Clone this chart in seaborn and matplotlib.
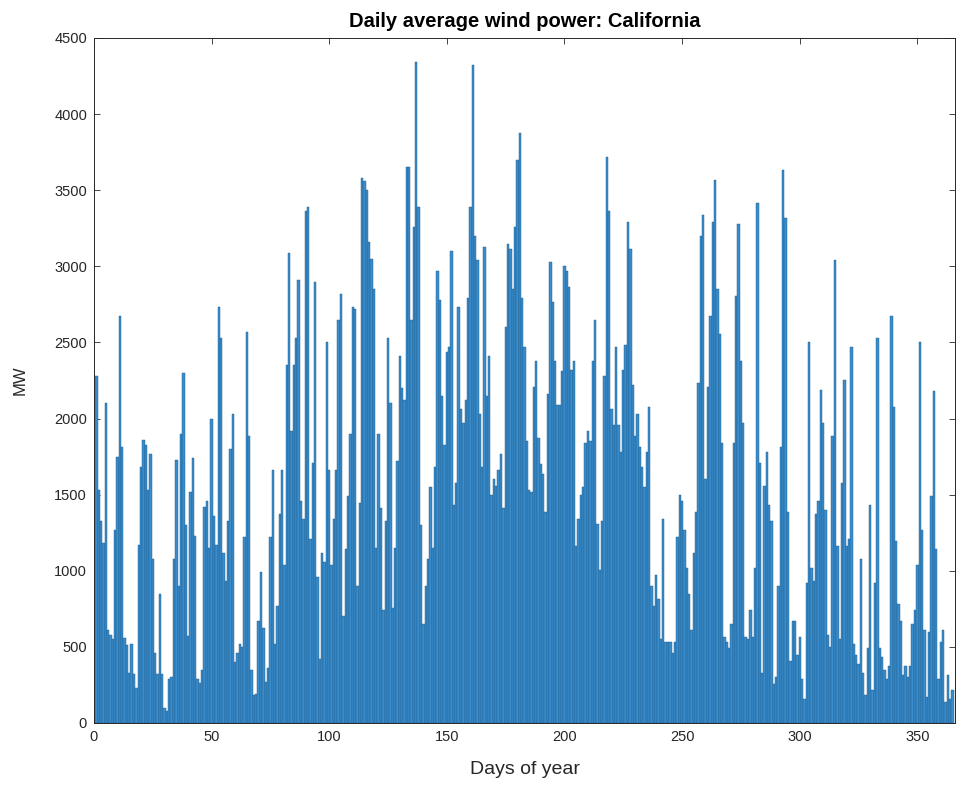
import numpy as np
import pandas as pd
import matplotlib
matplotlib.use("Agg")
import matplotlib.pyplot as plt
import seaborn as sns

# daily average wind power (MW), one list per quarter
mw_q1 = [2280, 1530, 1330, 1180, 2100, 610, 580, 550, 1270, 1750,
         2675, 1810, 560, 510, 330, 520, 320, 230, 1170, 1680,
         1860, 1825, 1530, 1765, 1080, 460, 320, 850, 320, 100,
         82, 287, 300, 1080, 1730, 900, 1900, 2300, 1300, 570,
         1520, 1740, 1230, 290, 260, 350, 1420, 1460, 1150, 2000,
         1360, 1170, 2730, 2530, 1120, 930, 1330, 1800, 2030, 400,
         460, 520, 500, 1225, 2570, 1885, 350, 185, 190, 670,
         990, 625, 270, 360, 1225, 1665, 520, 770, 1370, 1665,
         1035, 2350, 3090, 1915, 2350, 2530, 2910, 1460, 1340, 3365,
         3390]
mw_q2 = [1210, 1710, 2895, 960, 420, 1120, 1060, 2500, 1665, 1035,
         1340, 1665, 2645, 2820, 700, 1140, 1490, 1900, 2735, 2720,
         900, 1445, 3580, 3560, 3500, 3160, 3050, 2850, 1150, 1900,
         1415,
         740, 1330, 2530, 2100, 755, 1150, 1720, 2410, 2200, 2120,
         3655, 3655, 2645, 3260, 4345, 3390, 1300, 650, 900, 1080,
         1550, 1150, 1680, 2970, 2780, 2150, 1825, 2440, 2470, 3100,
         1430, 1575, 2735, 2060, 1970, 2120, 2790, 3390, 4322, 3200,
         3040, 2030, 1680, 3130, 2150, 2410, 1500, 1600, 1560, 1665,
         1765, 1415, 2600, 3145, 3115, 2850, 3260, 3700, 3875, 2790]
mw_q3 = [2470,
         1855, 1530, 1520, 2205, 2380, 1870, 1700, 1635, 1385, 2160,
         3030, 2765, 2375, 2090, 2090, 2310, 3000, 2970, 2865, 2320,
         2375, 1165, 1340, 1500, 1550, 1840, 1915, 1855, 2380, 2645,
         1310, 1005, 1330, 2280, 3715, 3365, 2060, 1955, 2470, 1955,
         1780, 2320, 2485, 3290, 3115, 2220, 1885, 2030, 1810, 1680,
         1550, 1780, 2075, 900, 770, 975, 815, 550, 1340, 535,
         535, 535, 463, 535, 1225, 1500, 1460, 1270, 1020, 845,
         610, 1120, 1385, 2235, 3200, 3335, 1605, 2205, 2675, 3290,
         3570, 2850, 2555, 1840, 565, 535, 490, 650, 1840, 2805]
mw_q4 = [3275, 2380, 1970, 565, 550, 740, 565, 1020, 3415, 1710,
         330, 1560, 1780, 1430, 1330, 258, 300, 900, 1810, 3635,
         3320, 1385, 405, 668, 668, 450, 565, 287, 155, 917,
         2500,
         1020, 930, 1370, 1460, 2190, 1970, 1400, 580, 500, 1885,
         3040, 1165, 550, 1575, 2250, 1165, 1210, 2470, 520, 450,
         390, 1080, 330, 185, 490, 1430, 215, 917, 2530, 490,
         435,
         346, 287, 375, 2675, 2075, 1195, 785, 668, 317, 375,
         302, 375, 653, 740, 1035, 2500, 1270, 610, 170, 595,
         1490, 2180, 1140, 287, 535, 610, 140, 317, 155, 215]

mw = mw_q1 + mw_q2 + mw_q3 + mw_q4
days = np.arange(1, len(mw) + 1)
df = pd.DataFrame({"day": days, "mw": mw})

x_ticks = list(range(0, 351, 50))
y_ticks = list(range(0, 4501, 500))

sns.set_style("ticks")
plt.rcParams["font.family"] = ["Liberation Sans", "DejaVu Sans"]

dark = "#262626"
fig = plt.figure(figsize=(9.56, 7.92), dpi=100)
ax = fig.add_axes([94 / 956, 1 - 723 / 792, 861 / 956, 685 / 792])

sns.barplot(data=df, x="day", y="mw", native_scale=True, width=1,
            color="#3a8ccc", saturation=1, edgecolor="#1c5a88",
            linewidth=0.3, errorbar=None, ax=ax)

ax.set_xlim(0, 366)
ax.set_ylim(0, 4500)
ax.set_xticks(x_ticks)
ax.set_yticks(y_ticks)
ax.tick_params(direction="in", top=True, right=True, length=4, width=0.6,
               colors=dark, labelsize=10.5, pad=5)
for s in ax.spines.values():
    s.set_visible(True)
    s.set_color(dark)
    s.set_linewidth(0.7)

ax.set_title("Daily average wind power: California", fontsize=14.5,
             fontweight="bold", color="black", pad=8)
ax.set_xlabel("Days of year", fontsize=14, color=dark)
ax.set_ylabel("MW", fontsize=12, color=dark)
ax.xaxis.set_label_coords(0.5, -0.056)
ax.yaxis.set_label_coords(-0.077, 0.5)

fig.savefig("out.png", dpi=100)
